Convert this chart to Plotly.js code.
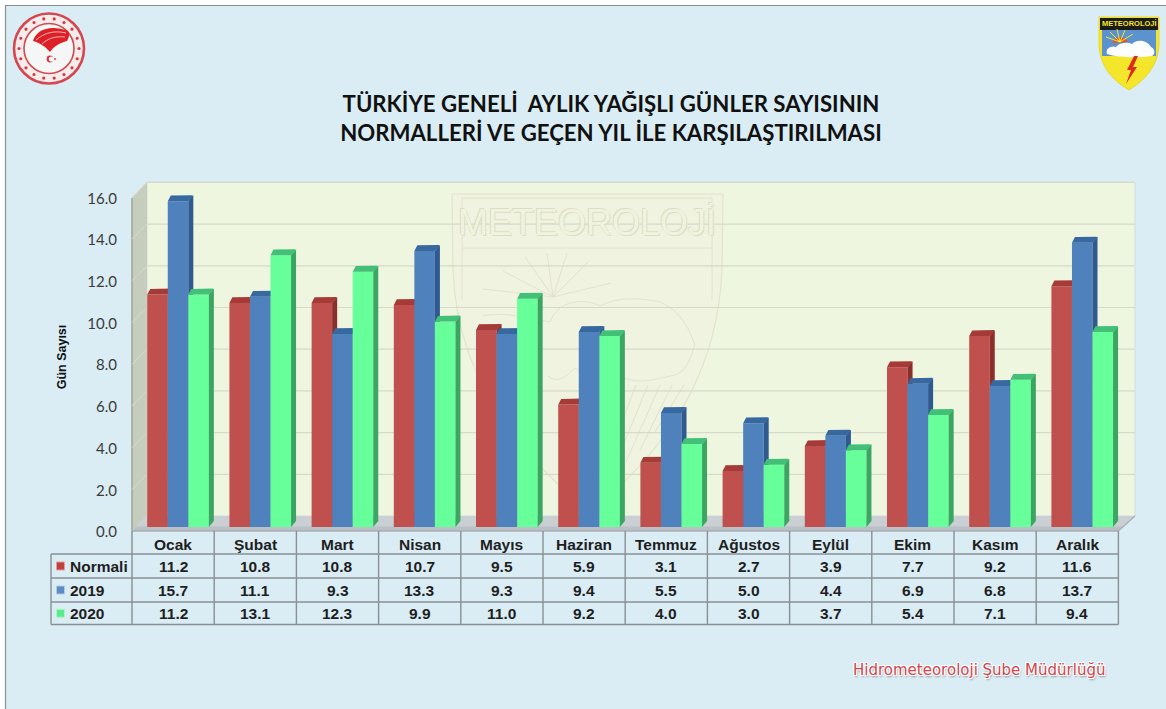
<!DOCTYPE html>
<html lang="tr">
<head>
<meta charset="utf-8">
<script src="https://cdn.plot.ly/plotly-3.0.1.min.js"></script>
<style>html,body{margin:0;padding:0;background:#fff;overflow:hidden}#c{width:1166px;height:709px}</style>
</head>
<body>
<div id="c"></div>
<script>
const months = ["Ocak","Şubat","Mart","Nisan","Mayıs","Haziran","Temmuz","Ağustos","Eylül","Ekim","Kasım","Aralık"];
const normali = [11.2,10.8,10.8,10.7,9.5,5.9,3.1,2.7,3.9,7.7,9.2,11.6];
const y2019 = [15.7,11.1,9.3,13.3,9.3,9.4,5.5,5.0,4.4,6.9,6.8,13.7];
const y2020 = [11.2,13.1,12.3,9.9,11.0,9.2,4.0,3.0,3.7,5.4,7.1,9.4];
const seriesNames = ["Normali","2019","2020"];
const seriesValues = [normali,y2019,y2020];
const frontColors = ["#C0504D","#4F81BD","#66FF99"];
const sideColors = ["#8A2F2C","#2F5A90","#3AA661"];
const topColors = ["#A63A37","#37689F","#42C077"];
const yTicks = [0,2,4,6,8,10,12,14,16];

const W=1166,H=709,L=132,R=1136,T=182,B=532,COL=82.2,UNIT=20.85,BAR_UNIT=20.75;
const px=x=>(x-L)/(R-L), py=y=>(B-y)/(B-T);
const barOffset=[0.31,0.56,0.81], barWidth=0.25, depthX=5/COL, depthY=6/BAR_UNIT;

const traces=[{type:"scatter",mode:"none",x:[0],y:[0],yaxis:"y",showlegend:false,hoverinfo:"skip"}];
seriesNames.forEach((name,s)=>{
  const yax="y"+(s+2);
  const xs=months.map((m,i)=>i+barOffset[s]);
  traces.push({type:"bar",name,x:xs,y:seriesValues[s],width:barWidth,yaxis:yax,
    marker:{color:frontColors[s],line:{width:0}},cliponaxis:false,showlegend:false,
    hovertemplate:"%{customdata}<br>"+name+": %{y:.1f}<extra></extra>",customdata:months});
  const sx=[],sy=[],tx=[],ty=[];
  xs.forEach((c,i)=>{
    const v=seriesValues[s][i],a=c-barWidth/2,b=c+barWidth/2;
    sx.push(b,b+depthX,b+depthX,b,null); sy.push(0,depthY,v+depthY,v,null);
    tx.push(a,a+depthX*0.6,b+depthX*0.8,b+depthX,b,a,null);
    ty.push(v,v+depthY*0.95,v+depthY,v+depthY*0.8,v,v,null);
  });
  traces.push({type:"scatter",mode:"none",fill:"toself",fillcolor:sideColors[s],x:sx,y:sy,yaxis:yax,cliponaxis:false,showlegend:false,hoverinfo:"skip"});
  traces.push({type:"scatter",mode:"none",fill:"toself",fillcolor:topColors[s],x:tx,y:ty,yaxis:yax,cliponaxis:false,showlegend:false,hoverinfo:"skip"});
});

const shapes=[];
const rect=(x0,y0,x1,y1,fill,line,lw)=>shapes.push({type:"rect",xref:"paper",yref:"paper",x0:px(x0),x1:px(x1),y0:py(y0),y1:py(y1),fillcolor:fill,line:{color:line||"rgba(0,0,0,0)",width:lw||0},layer:"below"});
const seg=(x0,y0,x1,y1,color,lw)=>shapes.push({type:"line",xref:"paper",yref:"paper",x0:px(x0),x1:px(x1),y0:py(y0),y1:py(y1),line:{color,width:lw||1},layer:"below"});
const path=(pts,fill,line,lw)=>{
  const d=pts.replace(/(-?[\d.]+),(-?[\d.]+)/g,(m,a,b)=>px(+a)+","+py(+b));
  shapes.push({type:"path",xref:"paper",yref:"paper",path:d,fillcolor:fill||"rgba(0,0,0,0)",line:{color:line||"rgba(0,0,0,0)",width:lw||0},layer:"below"});
};
const circ=(cx,cy,r,fill,line,lw)=>shapes.push({type:"circle",xref:"paper",yref:"paper",x0:px(cx-r),x1:px(cx+r),y0:py(cy+r),y1:py(cy-r),fillcolor:fill||"rgba(0,0,0,0)",line:{color:line||"rgba(0,0,0,0)",width:lw||0},layer:"below"});

// page panel
rect(5.5,5.5,1180,730,"#DAEDF5","#8C8F90",1.2);

// 3-D walls
rect(147,182,1135,516,"#EEF6E0","#D3DDE0",1);
path("M132,198 L147,182 L147,516 L132,531 Z","#C6CDBC");
path("M132,531 L147,516 L1135,516 L1118,531 Z","#C9CFD2");
path("M132,531 L136,526.5 L1123,526.5 L1118,531 Z","#B9C0C6");
seg(132,198,132,531,"#9EA39A",1.5);

// watermark
const wm="#E4E2CD";
path("M452,194 L723,194 L722,270 C718,360 680,440 590,512 C500,440 456,360 453,270 Z","rgba(240,240,222,0.55)",wm,1.2);
path("M462,198 L712,198 L712,248 L462,248 Z",null,wm,1);
path("M462,248 L462,300",null,wm,1);path("M712,248 L712,300",null,wm,1);
[[-70,-8],[-50,-26],[-28,-40],[-6,-44],[14,-44],[36,-36],[58,-14]].forEach(r=>seg(553,297,553+r[0],297+r[1],wm,1));
path("M483,316 C500,312 520,316 550,322 C560,296 590,300 600,306 C620,296 640,298 660,302 C680,310 690,330 695,345",null,wm,1);
path("M548,376 C560,386 570,372 575,368 C585,372 590,385 600,378 L625,378 C640,385 660,378 675,375 C690,370 692,350 695,345",null,wm,1);
for(const [a,b,c,d] of [[636,385,600,480],[648,385,612,472],[660,385,626,462],[672,385,640,450],[684,385,655,432]]) seg(a,b,c,d,wm,1);

// horizontal grid on the back wall and left wall
yTicks.forEach(v=>{ if(v===0) return;
  const fy=531-v*UNIT, by=516-v*UNIT;
  seg(147,by,1135,by,"#D5DACB",1.2);
  seg(132,fy,147,by,"#D6DBCB",1);
});

// table
const rowY=[531,554,578,602,624.5];
const tableLine="#8A8F93";
seg(132,531,1118.4,531,"#A9AEB2",1.5);
[1,2,3,4].forEach(i=>seg(51,rowY[i],1118.4,rowY[i],tableLine,1.4));
seg(132,rowY[0],132,rowY[4],tableLine,1.4);
months.forEach((m,i)=>seg(132+(i+1)*COL,rowY[0],132+(i+1)*COL,rowY[4],tableLine,1.4));
seg(51,rowY[1],51,rowY[4],tableLine,1.4);
seg(1118.4,531,1135,516,"#A9AEB2",1.2);

// legend keys
const keyFill=["#C23F3C","#5D8CC4","#5BEB8E"];
const keyEdge=["#E29D9B","#B3C8E2","#ADF3C7"];
seriesNames.forEach((n,s)=>{const c=(rowY[s+1]+rowY[s+2])/2; rect(56.5,c-4,64.5,c+4,keyFill[s],keyEdge[s],1);});

// left emblem
circ(49,48.5,35,"#F7ECEC","#D5474F",2.6);
circ(49,48.5,25,"#F5F6F6","#D5474F",1.6);
for(let k=0;k<18;k++){const a=k/18*2*Math.PI; circ(49+30*Math.cos(a),48.5+30*Math.sin(a),1.6,"#D5373F");}
path("M33,41 C36,30 50,24 68,31 C70,34 69,38 67,41 C60,43 54,46 50,52 C46,47 40,43 33,41 Z","#DF1F26");
path("M36,40 C44,33 54,30 66,33",null,"#F6C6C8",0.9);
path("M42,44 C48,38 56,36 65,37",null,"#F6C6C8",0.9);
circ(50,59,3.4,"#D5373F");circ(51.4,59,2.6,"#F5F6F6");circ(55,59,0.9,"#D5373F");

// right emblem
path("M1099,17 L1159,17 L1159,45 C1158,66 1145,80 1129,90 C1112,80 1100,66 1099,45 Z","#F4E62B","#E8D92A",1);
path("M1102,30 L1156,30 L1156,56 L1102,56 Z","#5C93CE");
path("M1100,18 L1158,18 L1158,30 L1100,30 Z","#1D1B16");
path("M1112,43 C1114,36 1124,35 1128,42 Z","#E4552A");
[[-14,-5],[-10,-10],[-3,-13],[5,-12],[13,-8]].forEach(r=>seg(1120,42,1120+r[0],42+r[1],"#F4E62B",1));
path("M1107,54 C1105,48 1112,45 1116,47 C1120,42 1128,42 1132,44 C1138,38 1148,41 1151,47 C1156,49 1155,56 1151,56 C1140,58 1118,58 1107,54 Z","#FFFFFF");
path("M1134,56 L1127,70 L1131,70 L1126,84 L1137,67 L1133,67 L1138,56 Z","#DE2B22");

// text
const ann=[];
const tfont={family:"Liberation Sans, Arial, sans-serif",size:15.5,color:"#1E1E1E"};
const note=(o)=>ann.push(Object.assign({showarrow:false,xanchor:"center",yanchor:"middle"},o));
months.forEach((m,i)=>{
  note({xref:"x",yref:"paper",x:i+0.5,y:py(544.5),text:"<b>"+m+"</b>",font:tfont});
  seriesValues.forEach((vals,s)=>{
    note({xref:"x",yref:"paper",x:i+0.5,y:py((rowY[s+1]+rowY[s+2])/2),text:"<b>"+vals[i].toFixed(1)+"</b>",font:tfont});
  });
});
seriesNames.forEach((n,s)=>note({xref:"paper",yref:"paper",x:px(68),xanchor:"left",y:py((rowY[s+1]+rowY[s+2])/2),text:"<b>"+n+"</b>",font:tfont}));
note({xref:"paper",yref:"paper",x:px(587),y:py(222),text:"METEOROLOJİ",
  font:{family:"Liberation Sans, sans-serif",size:36,color:"#EFF4DE",shadow:"1px 1px 0 #DEDCC6, -1px -1px 0 #DEDCC6"}});
note({xref:"paper",yref:"paper",x:px(1129),y:py(24),text:"<b>METEOROLOJİ</b>",
  font:{family:"Liberation Sans, sans-serif",size:7.5,color:"#F4E62B"}});
note({xref:"paper",yref:"paper",x:px(979),y:py(669.5),text:"Hidrometeoroloji Şube Müdürlüğü",
  font:{family:"DejaVu Sans, sans-serif",size:15,color:"#CF4650",shadow:"1px 1px 0 #fff, -1px -1px 0 #fff, 1px -1px 0 #fff, -1px 1px 0 #fff, 1px 2px 2px #888"}});

const hiddenY=()=>({overlaying:"y",range:[-(B-527)/BAR_UNIT,(527-T)/BAR_UNIT],visible:false,fixedrange:true});
const layout={
  width:W,height:H,margin:{l:L,r:W-R,t:T,b:H-B,pad:0},
  paper_bgcolor:"#FFFFFF",plot_bgcolor:"rgba(0,0,0,0)",showlegend:false,barmode:"overlay",
  title:{text:"<b>TÜRKİYE GENELİ \u00A0AYLIK YAĞIŞLI GÜNLER SAYISININ<br>NORMALLERİ VE GEÇEN YIL İLE KARŞILAŞTIRILMASI</b>",
    x:611/W,xanchor:"center",xref:"container",yref:"container",y:1-112/H,yanchor:"middle",
    font:{family:"Lato, sans-serif",size:22.2,color:"#111111"}},
  xaxis:{range:[0,(R-L)/COL],visible:false,fixedrange:true},
  yaxis:{range:[0,(B-T)/UNIT],tickvals:yTicks,ticktext:yTicks.map(v=>v.toFixed(1)),showgrid:false,zeroline:false,showline:false,
    ticks:"",ticklabelstandoff:14,tickfont:{family:"Lato, sans-serif",size:15,color:"#3A3A3A"},fixedrange:true,
    title:{text:"<b>Gün Sayısı</b>",standoff:17,font:{family:"Liberation Sans, Arial, sans-serif",size:12.5,color:"#111"}}},
  yaxis2:hiddenY(),yaxis3:hiddenY(),yaxis4:hiddenY(),
  shapes,annotations:ann
};
Plotly.newPlot("c",traces,layout,{displayModeBar:false,responsive:false});
</script>
</body>
</html>
